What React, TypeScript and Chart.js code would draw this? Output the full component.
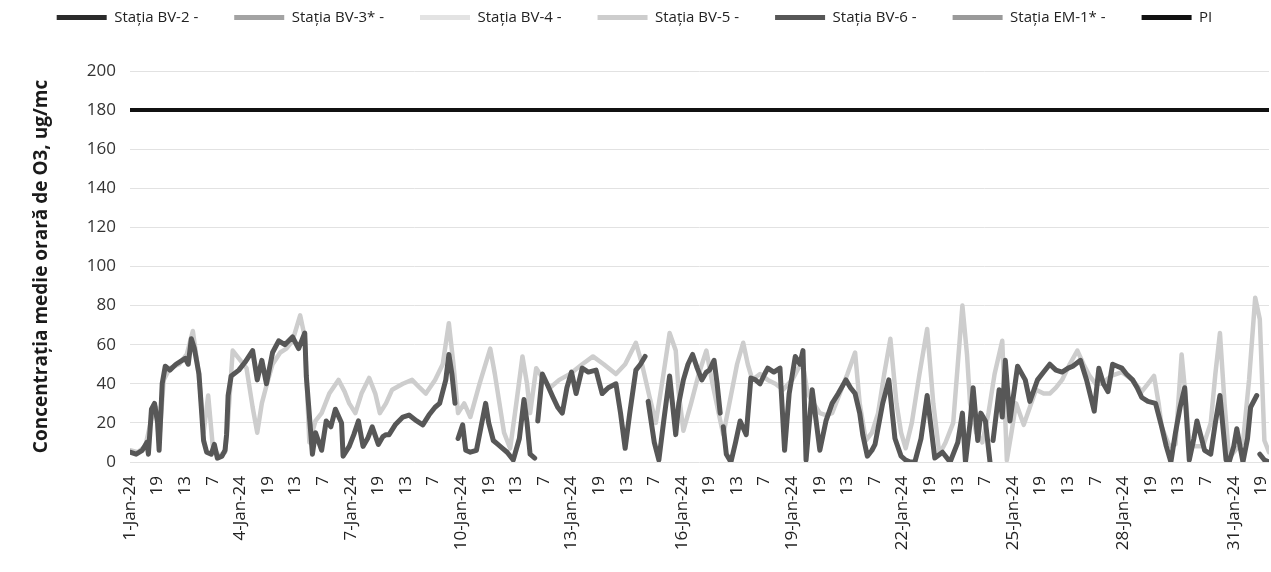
import React, { useEffect, useRef } from "react";
import { Chart, registerables } from "chart.js";

Chart.register(...registerables);

// Series shown in the legend (names and swatch colours)
const SERIES_NAMES = [
  "Stația BV-2 -",
  "Stația BV-3* -",
  "Stația BV-4 -",
  "Stația BV-5 -",
  "Stația BV-6 -",
  "Stația EM-1* -",
  "PI",
];
const SERIES_COLORS = ["#2b2b2b", "#a3a3a3", "#e3e3e3", "#cdcdcd", "#575757", "#9a9a9a", "#111111"];

// x axis: hour index from 1-Jan-24 01:00 (0) to 31-Jan-24 24:00 (743)
const TICK_HOURS = [
  0, 18, 36, 54, 72, 90, 108, 126, 144, 162, 180, 198, 216, 234, 252, 270, 288, 306, 324, 342, 360,
  378, 396, 414, 432, 450, 468, 486, 504, 522, 540, 558, 576, 594, 612, 630, 648, 666, 684, 702, 720, 738,
];
const TICK_LABELS = [
  "1-Jan-24", "19", "13", "7", "4-Jan-24", "19", "13", "7", "7-Jan-24", "19", "13", "7",
  "10-Jan-24", "19", "13", "7", "13-Jan-24", "19", "13", "7", "16-Jan-24", "19", "13", "7",
  "19-Jan-24", "19", "13", "7", "22-Jan-24", "19", "13", "7", "25-Jan-24", "19", "13", "7",
  "28-Jan-24", "19", "13", "7", "31-Jan-24", "19",
];

// [hour index, ug/mc]; null = gap in the record
const BV6_POINTS: [number, number | null][] = [
  [0, 5], [4, 4], [8, 6], [11, 10], [12, 4], [14, 27], [16, 30], [18, 20], [19, 6], [21, 40], [23, 49],
  [26, 47], [30, 50], [34, 52], [36, 53], [38, 50], [40, 63], [42, 58], [45, 45], [48, 11], [50, 5],
  [53, 4], [55, 9], [57, 2], [60, 3], [62, 6], [63, 14], [64, 34], [66, 44], [71, 47], [75, 51], [80, 57],
  [83, 42], [86, 52], [89, 40], [93, 56], [97, 62], [101, 60], [106, 64], [110, 58], [114, 66], [115, 44],
  [119, 4], [121, 15], [125, 6], [128, 21], [131, 18], [134, 27], [138, 20], [139, 3], [143, 8], [146, 14],
  [149, 21], [152, 8], [155, 12], [158, 18], [162, 9], [165, 13], [167, 14], [169, 14], [173, 19],
  [178, 23], [182, 24], [187, 21], [191, 19], [195, 24], [199, 28], [202, 30], [206, 42], [208, 55],
  [210, 45], [212, 30], [213, null], [214, 12], [217, 19], [219, 6], [222, 5], [226, 6], [229, 18],
  [232, 30], [234, 20], [237, 11], [240, 9], [243, 7], [246, 5], [250, 1], [254, 12], [257, 32], [259, 20],
  [261, 4], [264, 2], [265, null], [266, 21], [269, 45], [272, 40], [276, 33], [279, 28], [282, 25],
  [285, 38], [288, 46], [291, 35], [295, 48], [299, 46], [304, 47], [308, 35], [312, 38], [317, 40],
  [320, 25], [323, 7], [326, 25], [330, 47], [333, 50], [336, 54], [337, null], [338, 31], [342, 10],
  [345, 1], [348, 20], [352, 44], [356, 14], [358, 30], [361, 42], [364, 50], [367, 55], [370, 48],
  [373, 42], [376, 46], [378, 47], [381, 52], [383, 40], [385, 25], [386, null], [387, 18], [389, 4],
  [392, 0], [395, 10], [398, 21], [402, 14], [405, 43], [408, 42], [411, 40], [414, 45], [416, 48],
  [420, 46], [424, 48], [427, 6], [430, 35], [434, 54], [437, 50], [439, 57], [441, 1], [445, 37],
  [450, 6], [454, 21], [458, 30], [462, 35], [467, 42], [470, 38], [473, 35], [476, 25], [478, 14],
  [481, 3], [484, 6], [486, 9], [491, 30], [495, 42], [499, 12], [503, 3], [506, 1], [509, 0], [512, 0],
  [516, 12], [520, 34], [525, 2], [530, 5], [535, 0], [540, 10], [543, 25], [545, 0], [548, 20], [550, 38],
  [553, 11], [555, 25], [558, 21], [561, 0], [562, null], [563, 11], [567, 37], [569, 23], [571, 52],
  [574, 21], [579, 49], [584, 42], [587, 31], [592, 42], [596, 46], [600, 50], [604, 47], [608, 46],
  [612, 48], [615, 49], [620, 52], [624, 42], [629, 26], [632, 48], [635, 40], [638, 36], [641, 50],
  [644, 49], [647, 48], [650, 45], [654, 42], [657, 38], [660, 33], [664, 31], [669, 30], [673, 18],
  [676, 8], [679, 0], [682, 15], [685, 28], [688, 38], [691, 1], [694, 12], [696, 21], [701, 6], [705, 4],
  [708, 20], [711, 34], [715, 1], [717, 0], [720, 8], [722, 17], [726, 0], [729, 12], [731, 28], [735, 34],
  [736, null], [737, 4], [740, 1], [743, 0],
];

const BV5_POINTS: [number, number | null][] = [
  [0, 6], [5, 5], [10, 8], [14, 22], [17, 28], [19, 10], [22, 42], [26, 48], [32, 50], [37, 55], [41, 67],
  [44, 50], [46, 35], [48, 15], [51, 34], [54, 8], [58, 3], [62, 5], [64, 22], [67, 57], [72, 52], [76, 48],
  [80, 28], [83, 15], [86, 30], [89, 39], [93, 50], [98, 56], [102, 58], [106, 62], [111, 75], [114, 64],
  [117, 10], [121, 21], [125, 25], [130, 35], [136, 42], [140, 36], [143, 30], [147, 25], [151, 35],
  [156, 43], [160, 35], [163, 25], [167, 30], [171, 37], [178, 40], [184, 42], [189, 38], [193, 35],
  [199, 42], [204, 50], [208, 71], [211, 50], [214, 25], [218, 30], [222, 23], [228, 40], [235, 58],
  [238, 45], [241, 30], [244, 15], [248, 7], [252, 30], [256, 54], [259, 40], [261, 25], [265, 48],
  [270, 42], [274, 38], [280, 42], [287, 45], [295, 50], [302, 54], [309, 50], [317, 45], [323, 50],
  [330, 61], [334, 50], [339, 33], [343, 20], [348, 45], [352, 66], [356, 57], [358, 35], [361, 16],
  [366, 30], [371, 45], [376, 57], [380, 40], [384, 25], [387, 14], [391, 30], [396, 50], [400, 61],
  [403, 50], [406, 42], [411, 45], [416, 42], [421, 40], [426, 37], [432, 42], [436, 48], [439, 50],
  [442, 35], [446, 30], [450, 25], [454, 24], [458, 25], [463, 35], [468, 45], [473, 56], [476, 30],
  [480, 11], [484, 15], [488, 25], [492, 45], [496, 63], [500, 30], [503, 15], [506, 7], [510, 20],
  [515, 45], [520, 68], [524, 30], [528, 4], [532, 10], [537, 20], [540, 50], [543, 80], [546, 55],
  [548, 30], [552, 15], [556, 10], [560, 25], [564, 45], [569, 62], [572, 1], [575, 15], [578, 30],
  [583, 19], [587, 28], [591, 37], [596, 35], [600, 35], [604, 38], [608, 42], [613, 50], [618, 57],
  [622, 50], [626, 44], [630, 40], [634, 40], [640, 44], [647, 46], [654, 42], [660, 36], [664, 40],
  [668, 44], [671, 30], [673, 18], [678, 8], [682, 9], [686, 55], [689, 30], [691, 10], [695, 8], [700, 8],
  [705, 20], [708, 45], [711, 66], [714, 30], [717, 2], [721, 6], [726, 10], [730, 42], [734, 84],
  [737, 73], [740, 11], [743, 5],
];

const PI_POINTS: [number, number][] = [[0, 180], [743, 180]];

const Y_TITLE = "Concentrația medie orară de O3, ug/mc";
const FONT = "'Open Sans', 'DejaVu Sans', sans-serif";

const toXY = (pts: [number, number | null][]) => pts.map(([x, y]) => ({ x, y }));

export default function App() {
  const canvasRef = useRef<HTMLCanvasElement | null>(null);

  useEffect(() => {
    if (!canvasRef.current) return;
    const dataByName: Record<string, { x: number; y: number | null }[]> = {
      "Stația BV-5 -": toXY(BV5_POINTS),
      "Stația BV-6 -": toXY(BV6_POINTS),
      PI: toXY(PI_POINTS),
    };
    const widths: Record<string, number> = { "Stația BV-5 -": 4.5, "Stația BV-6 -": 5, PI: 4 };
    const orders: Record<string, number> = { "Stația BV-5 -": 2, "Stația BV-6 -": 1, PI: 0 };

    const legendSpacer = {
      id: "legendSpacer",
      beforeInit(chart: any) {
        const orig = chart.legend.fit;
        chart.legend.fit = function fit() {
          orig.bind(chart.legend)();
          this.height = 97;
        };
      },
    };

    const chart = new Chart(canvasRef.current, {
      type: "line",
      data: {
        datasets: SERIES_NAMES.map((name, i) => ({
          label: name,
          data: dataByName[name] || [],
          borderColor: SERIES_COLORS[i],
          backgroundColor: SERIES_COLORS[i],
          borderWidth: widths[name] || 4,
          order: orders[name] ?? 3,
          pointRadius: 0,
          spanGaps: false,
          tension: 0,
        })),
      },
      options: {
        animation: false,
        responsive: false,
        maintainAspectRatio: false,
        layout: { padding: { left: 0, right: 2, top: -26, bottom: 0 } },
        elements: { line: { borderJoinStyle: "round", borderCapStyle: "round" } },
        plugins: {
          tooltip: { enabled: false },
          legend: {
            position: "top",
            labels: {
              boxWidth: 50,
              boxHeight: 5,
              padding: 36,
              color: "#222",
              font: { family: FONT, size: 15 },
              generateLabels: () =>
                SERIES_NAMES.map((name, i) => ({
                  text: name,
                  fillStyle: SERIES_COLORS[i],
                  strokeStyle: SERIES_COLORS[i],
                  lineWidth: 0,
                  hidden: false,
                  datasetIndex: i,
                  fontColor: "#222",
                })),
            },
          },
        },
        scales: {
          x: {
            type: "linear",
            min: 0,
            max: 743,
            grid: { display: false, drawTicks: false },
            border: { display: false },
            afterBuildTicks: (scale: any) => {
              scale.ticks = TICK_HOURS.map((v) => ({ value: v }));
            },
            afterFit: (scale: any) => {
              scale.height = 110;
              scale.paddingLeft = 0;
              scale.paddingRight = 0;
            },
            ticks: {
              autoSkip: false,
              minRotation: 90,
              maxRotation: 90,
              padding: 14,
              color: "#222",
              font: { family: FONT, size: 17 },
              callback: (_v: any, i: number) => TICK_LABELS[i],
            },
          },
          y: {
            min: 0,
            max: 200,
            afterFit: (scale: any) => {
              scale.width = 130;
            },
            grid: { color: "#e2e2e2", lineWidth: 1, drawTicks: false },
            border: { display: false },
            ticks: {
              stepSize: 20,
              padding: 14,
              color: "#333",
              font: { family: FONT, size: 17 },
            },
            title: {
              display: true,
              text: Y_TITLE,
              color: "#1a1a1a",
              font: { family: FONT, size: 19, weight: "bold" },
              padding: { top: 30, bottom: 0 },
            },
          },
        },
      },
      plugins: [legendSpacer],
    } as any);
    return () => chart.destroy();
  }, []);

  return (
    <div style={{ position: "absolute", left: 0, top: 0, width: 1271, height: 572, background: "#fff" }}>
      <canvas ref={canvasRef} width={1271} height={572} style={{ display: "block", width: 1271, height: 572 }} />
    </div>
  );
}
